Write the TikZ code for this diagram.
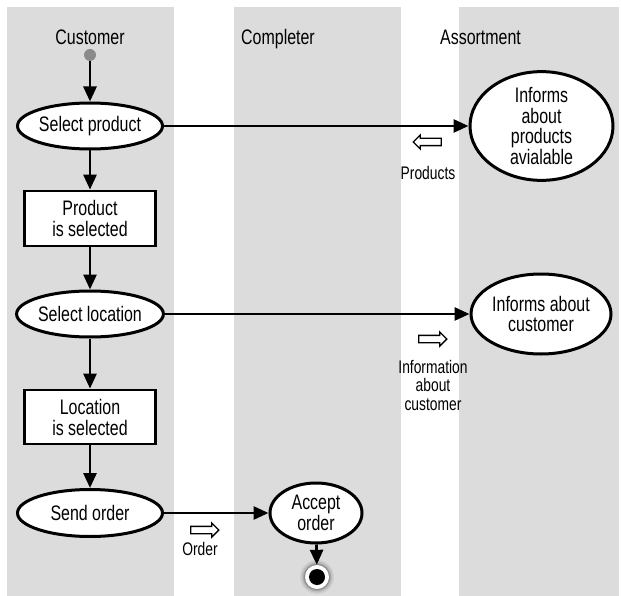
\documentclass[tikz,border=0pt]{standalone}
\usepackage{fontspec}
\setmainfont{Liberation Sans}[FakeStretch=0.76]
\usetikzlibrary{arrows.meta,shapes.geometric,shapes.arrows}

\definecolor{lanegrey}{RGB}{220,220,220}
\definecolor{dotgrey}{RGB}{138,138,138}

\tikzset{
  lane/.style={fill=lanegrey, draw=none},
  title/.style={anchor=base, inner sep=0pt, font=\fontsize{21}{21}\selectfont},
  activity/.style={ellipse, draw, line width=3pt, fill=white, inner sep=0pt,
    align=center, font=\fontsize{21}{20.5}\selectfont},
  statebox/.style={rectangle, draw, line width=2.8pt, fill=white, inner sep=0pt,
    align=center, minimum width=131pt, minimum height=55pt,
    font=\fontsize{21}{21}\selectfont},
  flow/.style={line width=2.8pt, -{Triangle[length=15pt,width=13pt]}},
  objflow/.style={single arrow, draw, line width=1.3pt, fill=white,
    minimum height=28pt, inner xsep=1pt, inner ysep=3pt,
    single arrow head extend=3.5pt},
  small/.style={align=center, inner sep=0pt, font=\fontsize{18.2}{18.5}\selectfont},
}

\begin{document}
\begin{tikzpicture}[x=1pt, y=-1pt]
  \useasboundingbox (0,0) rectangle (621,596);

  % swimlanes
  \fill[lane] (7,7) rectangle (174,596);
  \fill[lane] (234,7) rectangle (401,596);
  \fill[lane] (459,7) rectangle (619,596);

  % lane titles
  \node[title] (tcust) at (90,45) {Customer};
  \node[title, anchor=base west] (tcomp) at (241,45) {Completer};
  \node[title, anchor=base west] (tass) at (440,45) {Assortment};

  % start state
  \node[circle, fill=dotgrey, inner sep=0pt, minimum size=12pt] (start) at (90,55) {};

  % customer activities
  \node[activity, minimum width=145pt, minimum height=46pt] (selprod) at (90,126) {Select product};
  \node[statebox] (prodsel) at (90,218.5) {Product\\is selected};
  \node[activity, minimum width=145pt, minimum height=46pt] (selloc) at (90,314) {Select location};
  \node[statebox, minimum height=54pt] (locsel) at (90,417) {Location\\is selected};
  \node[activity, minimum width=145pt, minimum height=47pt] (sendord) at (90,513) {Send order};

  % completer
  \node[activity, minimum width=92pt, minimum height=60pt] (acceptord) at (316,513) {Accept\\order};

  % end state with soft shadow
  \foreach \r/\o in {17/0.06,15.5/0.08,14/0.12,13/0.18}
    \fill[black, opacity=\o] (317,577) circle (\r pt);
  \node[circle, fill=white, inner sep=0pt, minimum size=24pt] (endring) at (317,577) {};
  \node[circle, fill=black, inner sep=0pt, minimum size=16pt] (endstate) at (317,577) {};

  % assortment
  \node[activity, minimum width=143pt, minimum height=106pt] (infprod) at (541.5,126)
    {Informs\\about\\products\\avialable};
  \node[activity, minimum width=140pt, minimum height=80pt] (infcust) at (541,314)
    {Informs about\\customer};

  % control flow
  \draw[flow] (start) -- (selprod);
  \draw[flow] (selprod) -- (prodsel);
  \draw[flow] (prodsel) -- (selloc);
  \draw[flow] (selloc) -- (locsel);
  \draw[flow] (locsel) -- (sendord);
  \draw[flow] (sendord) -- (acceptord);
  \draw[flow] (acceptord) -- (endring);
  \draw[flow] (selprod) -- (infprod);
  \draw[flow] (selloc) -- (infcust);

  % object flows
  \node[objflow, shape border rotate=180] (objprod) at (429,142) {};
  \node[small] (lblprod) at (428,173) {Products};
  \node[objflow] (objcust) at (431,339) {};
  \node[small] (lblcust) at (433,385) {Information\\about\\customer};
  \node[objflow] (objord) at (203,530) {};
  \node[small] (lblord) at (200,549) {Order};
\end{tikzpicture}
\end{document}
